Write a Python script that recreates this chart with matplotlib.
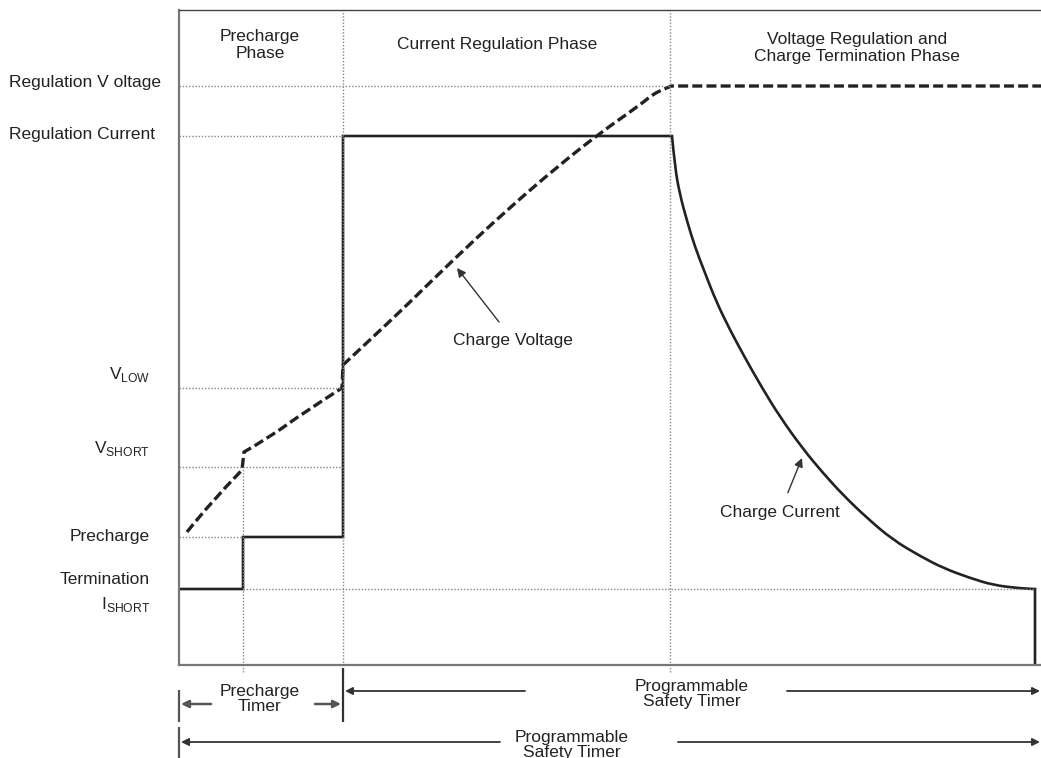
import matplotlib
matplotlib.use("Agg")
import matplotlib.pyplot as plt
from matplotlib.path import Path
from matplotlib.patches import PathPatch

plt.rcParams['font.family'] = ['Liberation Sans', 'DejaVu Sans']
plt.rcParams['mathtext.fontset'] = 'custom'
plt.rcParams['mathtext.rm'] = 'Liberation Sans'

# time marks (x) and levels (y)
t_pre = 64      # end of precharge timer
t_cc = 164      # start of current regulation
t_cv = 491      # start of voltage regulation
t_end = 856     # termination
t_max = 862

lvl_reg_v = 579
lvl_reg_i = 529
lvl_vlow = 277
lvl_vshort = 198
lvl_pre = 128
lvl_term = 76
y_max = 655

# left-side labels and their y positions
level_labels = ["Regulation V oltage", "Regulation Current", r"V$_{\mathrm{LOW}}$",
                r"V$_{\mathrm{SHORT}}$", "Precharge", "Termination", r"I$_{\mathrm{SHORT}}$"]
level_label_y = [582, 531, 291, 216, 128, 86, 60]

# charge voltage (dashed), one list per smooth piece; pieces are joined by straight jumps
volt_pieces = [
    [(8, 133), (31, 162), (63, 195)],
    [(65, 213), (91, 228), (124, 252), (163, 277)],
    [(164, 300), (194, 328), (228, 360), (274, 405), (328, 455), (378, 498),
     (421, 532), (461, 560), (478, 574), (493, 579)],
    [(493, 579), (862, 579)],
]

# charge current (solid): straight steps, the taper, then the final drop
curr_steps = [(0, 76), (64, 76), (64, 128), (164, 128), (164, 529), (491, 529), (493, 529)]
curr_taper = [(493, 529), (496, 497), (501, 470), (508, 444), (516, 418), (526, 392),
              (537, 364), (550, 337), (565, 309), (582, 279), (601, 248), (624, 216),
              (644, 192), (664, 170), (688, 147), (714, 125), (741, 109), (764, 97),
              (791, 87), (814, 80), (838, 77), (854, 76), (856, 76)]
curr_drop = [(856, 76), (856, 0)]

phase_titles = ["Precharge\nPhase", "Current Regulation Phase",
                "Voltage Regulation and\nCharge Termination Phase"]
phase_x = [81, 318, 678]
phase_y = [620, 620, 617]


def build_path(pieces):
    verts, codes = [], []
    for k, pts in enumerate(pieces):
        verts.append(pts[0])
        codes.append(Path.MOVETO if k == 0 else Path.LINETO)
        if len(pts) == 2:
            verts.append(pts[1])
            codes.append(Path.LINETO)
            continue
        for i in range(1, len(pts) - 1):
            if i == len(pts) - 2:
                end = pts[i + 1]
            else:
                end = ((pts[i][0] + pts[i + 1][0]) / 2, (pts[i][1] + pts[i + 1][1]) / 2)
            verts += [pts[i], end]
            codes += [Path.CURVE3, Path.CURVE3]
    return Path(verts, codes)


fig = plt.figure(figsize=(10.41, 7.58), dpi=100)
ax = fig.add_axes([179 / 1041, 93 / 758, 862 / 1041, 655 / 758])
ax.set_xlim(0, t_max)
ax.set_ylim(0, y_max)
ax.set_xticks([])
ax.set_yticks([])
ax.spines['right'].set_visible(False)
ax.spines['top'].set_color('#444444')
ax.spines['top'].set_linewidth(1.0)
for s in ['left', 'bottom']:
    ax.spines[s].set_color('#777777')
    ax.spines[s].set_linewidth(1.6)

txt = '#222222'
fs = 12.5
dot = dict(color='#888888', lw=1.0, linestyle=(0, (1, 1.3)), clip_on=False)

# dotted guide lines
ax.hlines(lvl_reg_v, 0, t_cv, **dot)
ax.hlines([lvl_reg_i, lvl_vlow, lvl_vshort], 0, t_cc, **dot)
ax.hlines(lvl_pre, 0, t_pre, **dot)
ax.hlines(lvl_term, t_pre, t_end, **dot)
ax.vlines([t_cc, t_cv], -7, y_max, **dot)
ax.vlines(t_pre, -7, lvl_vshort, **dot)

# curves
ax.add_patch(PathPatch(build_path(volt_pieces), fill=False, edgecolor='#222222', lw=2.4,
                       linestyle=(0, (3.0, 1.25)), capstyle='butt'))
step_pieces = [[curr_steps[i], curr_steps[i + 1]] for i in range(len(curr_steps) - 1)]
ax.add_patch(PathPatch(build_path(step_pieces + [curr_taper, curr_drop]), fill=False,
                       edgecolor='#222222', lw=1.9, joinstyle='miter'))

# left labels
for lab, y in zip(level_labels, level_label_y):
    if lab.startswith("Regulation"):
        ax.text(-170, y, lab, ha='left', va='center', fontsize=fs, color=txt, clip_on=False)
    else:
        ax.text(-29, y, lab, ha='right', va='center', fontsize=fs, color=txt, clip_on=False)

# phase titles
for lab, x, y in zip(phase_titles, phase_x, phase_y):
    ax.text(x, y, lab, ha='center', va='center', fontsize=fs, color=txt, linespacing=1.1)

# curve callouts
ax.annotate("Charge Voltage", xy=(278, 397), xytext=(334, 325), ha='center', va='center',
            fontsize=fs, color=txt,
            arrowprops=dict(arrowstyle='-|>', color='#333333', lw=1.0, mutation_scale=13,
                            shrinkA=7, shrinkB=0))
ax.annotate("Charge Current", xy=(623, 207), xytext=(601, 153), ha='center', va='center',
            fontsize=fs, color=txt,
            arrowprops=dict(arrowstyle='-|>', color='#333333', lw=1.0, mutation_scale=13,
                            shrinkA=7, shrinkB=0))

# timers below the axis
gray = '#555555'
ax.vlines(0, -57, -25, color=gray, lw=1.6, clip_on=False)
ax.vlines(t_cc, -57, -3, color='#333333', lw=1.6, clip_on=False)
ax.vlines(0, -93, -62, color=gray, lw=1.6, clip_on=False)


def timer_arrow(x0, x1, y, color, lw):
    ax.annotate("", xy=(x1, y), xytext=(x0, y), annotation_clip=False,
                arrowprops=dict(arrowstyle='-|>', color=color, lw=lw, mutation_scale=11,
                                shrinkA=0, shrinkB=0))


timer_arrow(32, 2, -39, gray, 1.8)
timer_arrow(136, t_cc - 2, -39, gray, 1.8)
ax.text(81, -34, "Precharge\nTimer", ha='center', va='center', fontsize=fs, color=txt,
        linespacing=1.05, clip_on=False)

timer_arrow(346, t_cc + 2, -26, '#333333', 1.3)
timer_arrow(608, t_max - 1, -26, '#333333', 1.3)
ax.text(513, -29, "Programmable\nSafety Timer", ha='center', va='center', fontsize=fs,
        color=txt, linespacing=1.05, clip_on=False)

timer_arrow(321, 2, -77, '#333333', 1.3)
timer_arrow(499, t_max - 1, -77, '#333333', 1.3)
ax.text(393, -80, "Programmable\nSafety Timer", ha='center', va='center', fontsize=fs,
        color=txt, linespacing=1.0, clip_on=False)

fig.savefig("out.png", dpi=100)
